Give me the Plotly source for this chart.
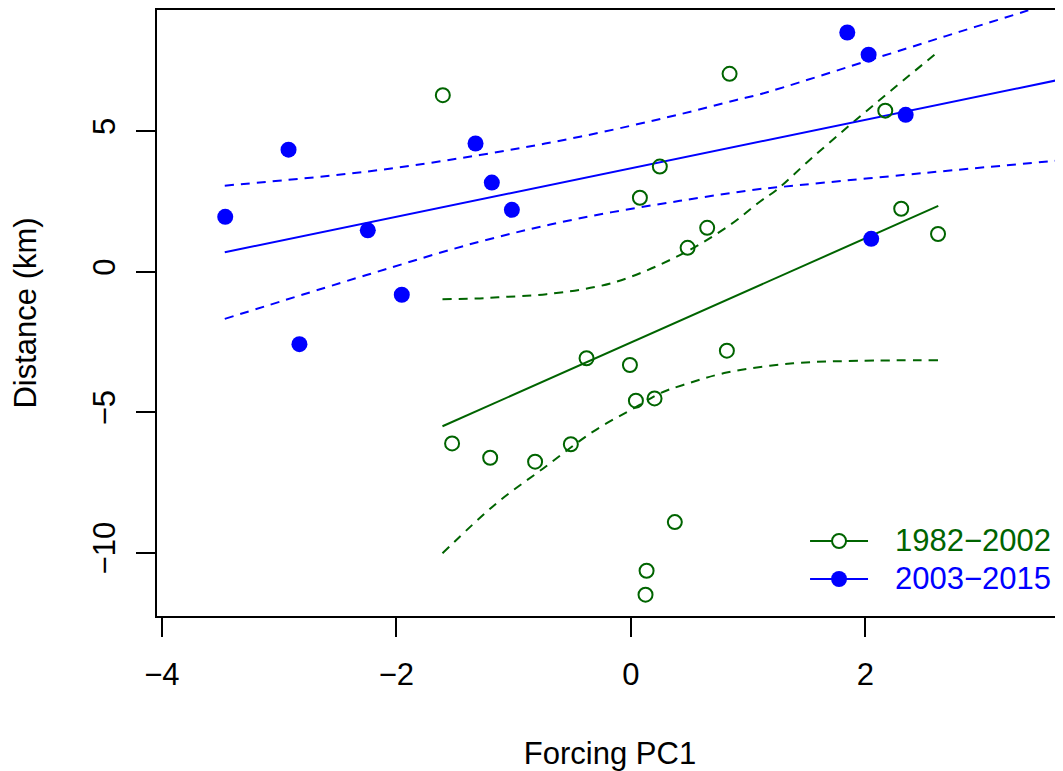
import plotly.graph_objects as go

# ---- data ----
green_x = [-1.604, 0.077, 0.842, 2.17, 0.247, 0.651, 0.484, 2.306, 2.62, -0.378, -0.008,
           0.043, 0.202, 0.819, -1.525, -1.2, -0.817, -0.512, 0.375, 0.134, 0.125]
green_y = [6.28, 2.63, 7.04, 5.73, 3.74, 1.56, 0.85, 2.24, 1.34, -3.08, -3.32,
           -4.59, -4.51, -2.81, -6.11, -6.62, -6.76, -6.14, -8.91, -10.64, -11.49]

blue_x = [-3.46, -2.92, -2.244, -1.954, -1.325, -1.186, -1.015, 1.846, 2.028, 2.344, 2.05, -2.827]
blue_y = [1.95, 4.34, 1.47, -0.82, 4.56, 3.17, 2.20, 8.51, 7.72, 5.58, 1.17, -2.58]

green_fit_x = [-1.607, 2.622]
green_fit_y = [-5.50, 2.34]
green_up_x = [-1.607, -1.288, -1.132, -0.72, -0.151, 0.418, 0.845, 1.10, 1.243, 1.527, 1.954, 2.622]
green_up_y = [-0.98, -0.95, -0.91, -0.80, -0.39, 0.59, 1.66, 2.49, 2.91, 3.98, 5.52, 7.83]
green_lo_x = [-1.607, -1.146, -0.748, -0.322, 0.049, 0.247, 0.446, 0.817, 1.385, 1.954, 2.622]
green_lo_y = [-10.02, -8.24, -7.0, -5.69, -4.80, -4.33, -4.03, -3.59, -3.26, -3.17, -3.15]

blue_fit_x = [-3.464, 3.69]
blue_fit_y = [0.69, 6.86]
blue_up_x = [-3.464, -2.255, -1.288, -0.435, 0.418, 0.90, 1.10, 2.153, 2.807, 3.376, 3.69]
blue_up_y = [3.06, 3.56, 4.15, 4.80, 5.60, 6.11, 6.31, 7.68, 8.54, 9.28, 9.72]
blue_lo_x = [-3.464, -2.255, -1.288, -0.435, 0.418, 1.10, 1.243, 2.523, 3.69]
blue_lo_y = [-1.68, -0.12, 1.07, 1.90, 2.52, 2.94, 3.0, 3.52, 3.97]

series_names = ["1982\u22122002", "2003\u22122015"]
x_ticks = [-4, -2, 0, 2]
y_ticks = [-10, -5, 0, 5]

GREEN = "#006400"
BLUE = "#0000FF"
FONT = "Liberation Sans, Arial, Helvetica, sans-serif"
DASH = "9px,7px"

fig = go.Figure()

# lines
fig.add_trace(go.Scatter(x=green_fit_x, y=green_fit_y, mode="lines",
                         line=dict(color=GREEN, width=2), showlegend=False, hoverinfo="skip"))
fig.add_trace(go.Scatter(x=green_up_x, y=green_up_y, mode="lines", line_shape="spline",
                         line=dict(color=GREEN, width=2, dash=DASH), showlegend=False, hoverinfo="skip"))
fig.add_trace(go.Scatter(x=green_lo_x, y=green_lo_y, mode="lines", line_shape="spline",
                         line=dict(color=GREEN, width=2, dash=DASH), showlegend=False, hoverinfo="skip"))
fig.add_trace(go.Scatter(x=blue_fit_x, y=blue_fit_y, mode="lines",
                         line=dict(color=BLUE, width=2), showlegend=False, hoverinfo="skip"))
fig.add_trace(go.Scatter(x=blue_up_x, y=blue_up_y, mode="lines", line_shape="spline",
                         line=dict(color=BLUE, width=2, dash=DASH), showlegend=False, hoverinfo="skip"))
fig.add_trace(go.Scatter(x=blue_lo_x, y=blue_lo_y, mode="lines", line_shape="spline",
                         line=dict(color=BLUE, width=2, dash=DASH), showlegend=False, hoverinfo="skip"))

# points
fig.add_trace(go.Scatter(x=green_x, y=green_y, mode="markers", showlegend=False, name=series_names[0],
                         marker=dict(symbol="circle-open", size=14, color=GREEN, line=dict(width=2, color=GREEN))))
fig.add_trace(go.Scatter(x=blue_x, y=blue_y, mode="markers", showlegend=False, name=series_names[1],
                         marker=dict(symbol="circle", size=16, color=BLUE)))

# manual legend (R style): line sample with marker, coloured text
leg_rows = [0.1238, 0.0611]
leg_line = (0.7208, 0.7848)
leg_mark = 0.7528
leg_text = 0.8130
shapes = []
annotations = []
for name, col, row, filled in zip(series_names, [GREEN, BLUE], leg_rows, [False, True]):
    shapes.append(dict(type="line", xref="paper", yref="paper", x0=leg_line[0], x1=leg_line[1],
                       y0=row, y1=row, line=dict(color=col, width=2)))
    r = 8 if filled else 7
    shapes.append(dict(type="circle", xref="paper", yref="paper", xsizemode="pixel", ysizemode="pixel",
                       xanchor=leg_mark, yanchor=row, x0=-r, x1=r, y0=-r, y1=r,
                       fillcolor=col if filled else "white", line=dict(color=col, width=0 if filled else 2)))
    annotations.append(dict(xref="paper", yref="paper", x=leg_text, y=row, xanchor="left", yanchor="middle",
                            text=name, showarrow=False, borderpad=0,
                            font=dict(size=31, color=col, family=FONT)))

fig.update_layout(
    width=1055, height=763,
    margin=dict(l=149, r=0, t=2, b=155),
    plot_bgcolor="white", paper_bgcolor="white",
    font=dict(family=FONT, size=31, color="black"),
    showlegend=False,
    shapes=shapes,
    annotations=annotations,
    xaxis=dict(range=[-4.042, 3.686], tickvals=x_ticks, ticks="outside", ticklen=19,
               tickwidth=1.5, tickcolor="black", showline=True, linecolor="black", linewidth=2,
               mirror=True, showgrid=False, zeroline=False, ticklabelstandoff=11,
               title=dict(text="Forcing PC1", standoff=51, font=dict(size=31))),
    yaxis=dict(range=[-12.25, 9.31], tickvals=y_ticks, ticks="outside", ticklen=19,
               tickwidth=1.5, tickcolor="black", showline=True, linecolor="black", linewidth=2,
               mirror=False, showgrid=False, zeroline=False, tickangle=-90, ticklabelstandoff=9,
               title=dict(text="Distance (km)", standoff=42, font=dict(size=31))),
)

fig.write_html("out.html")
